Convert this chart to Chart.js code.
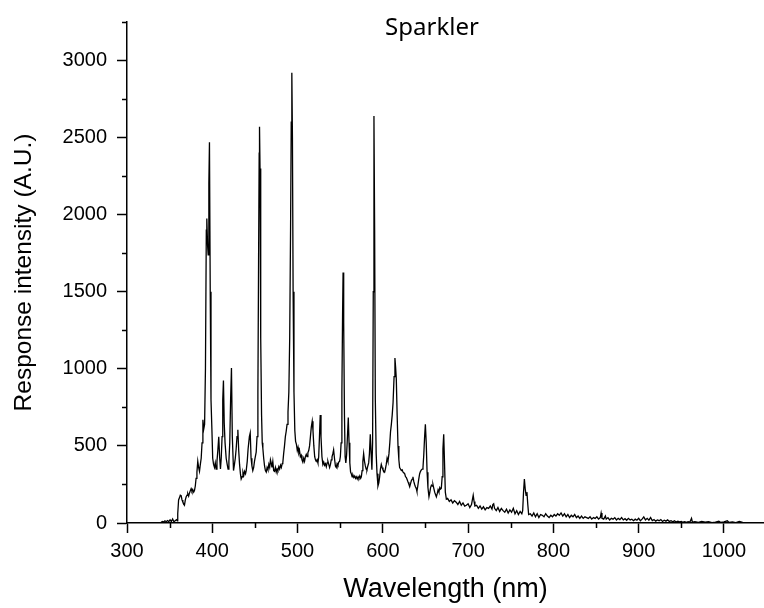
<!DOCTYPE html>
<html>
<head>
<meta charset="utf-8">
<title>Sparkler</title>
<script src="https://cdn.jsdelivr.net/npm/chart.js@4.4.1/dist/chart.umd.min.js"></script>
<style>
  html, body { margin: 0; padding: 0; background: #fff; }
  #wrap { width: 764px; height: 608px; }
</style>
</head>
<body>
<div id="wrap"><canvas id="spectrum" width="764" height="608"></canvas></div>
<script>
const plotTitle = "Sparkler";
const xTitle = "Wavelength (nm)";
const yTitle = "Response intensity (A.U.)";
const xTickValues = [300, 400, 500, 600, 700, 800, 900, 1000];
const yTickValues = [0, 500, 1000, 1500, 2000, 2500, 3000];

// spectrum, split by region (wavelength in nm, intensity in A.U.)
const nmA = [340, 341.5, 343, 344.5, 346, 347.5, 349, 350.5, 352, 353.5,
  355, 356.5, 358, 359, 359.5, 360.5, 361.5, 362.5, 363.5, 364.5,
  365.5, 366.5, 367.4, 368.4, 369.4, 370.4, 371.3, 372.3, 373.3, 374.3,
  375.2, 376.2, 377.2, 378.2, 379.1, 380.1, 381, 382, 383, 384,
  385, 386, 387, 388, 389, 390, 391, 392, 393, 393.6,
  394.5, 395.2, 396, 396.7, 397.6, 398.5, 399.5];
const valA = [4, 10, 6, 14, 8, 16, 9, 20, 10, 26,
  8, 15, 22, 14, 60, 150, 163, 180, 177, 150,
  135, 125, 116, 150, 170, 180, 190, 175, 195, 210,
  223, 205, 215, 200, 210, 240, 290, 330, 400, 360,
  335, 380, 420, 520, 670, 610, 640, 1000, 1900, 1975,
  1800, 1740, 2200, 2470, 1500, 800, 620];

const nmB = [400.5, 401.5, 402.6, 403.5, 404.5, 405.5, 406.5, 407.6, 408.6, 409.6,
  410.5, 411.5, 412.3, 413.1, 414, 415, 416.3, 417.5, 418.5, 419.5,
  420.5, 421.5, 422.5, 423.5, 424.9, 426, 427, 428, 429, 430,
  431, 432, 433, 433.9, 435, 436, 437, 438, 439, 439.8,
  441, 442, 443.5, 444.5, 445.5, 446.5, 447.5, 448.5, 449.5, 450.5,
  451.5, 452.5, 453.5, 454.3, 455, 455.4, 456, 456.8, 457.8, 458.6,
  459.3];
const valB = [420, 380, 360, 390, 350, 400, 470, 560, 430, 350,
  420, 560, 800, 925, 650, 520, 420, 380, 350, 400,
  520, 800, 1005, 560, 340, 380, 420, 480, 560, 605,
  470, 380, 320, 285, 300, 330, 310, 335, 320, 340,
  400, 480, 560, 584, 420, 370, 340, 360, 400, 430,
  460, 560, 850, 1700, 2400, 2570, 2300, 1200, 700, 520,
  485];

const nmC = [460.3, 461.3, 462.3, 463.3, 464.3, 465.3, 466.3, 467.3, 468.2, 469.1,
  470, 471, 472, 473, 474, 475, 476, 477, 478, 479,
  480, 481, 482, 482.7, 483.7, 484.7, 485.7, 486.7, 487.7, 488.8,
  489.8, 490.8, 491.8, 492.6, 493.3, 494, 494.8, 495.8, 496.8, 497.7,
  498.7, 499.7, 500.6, 501.5, 502.3, 503.3, 504.3, 505.2, 506.2, 507.2,
  508.2, 509.2, 510.2, 511.2, 512.1, 513.1, 514.1, 515.1, 516.1, 517.2,
  518.1, 519.1, 520.1];
const valC = [420, 370, 340, 330, 360, 345, 380, 360, 410, 390,
  360, 400, 340, 335, 360, 330, 350, 340, 365, 350,
  375, 360, 385, 390, 450, 500, 560, 595, 640, 720,
  850, 1200, 1900, 2600, 2920, 2500, 1500, 850, 600, 530,
  510, 470, 490, 455, 470, 430, 440, 410, 395, 420,
  400, 430, 445, 430, 455, 470, 500, 560, 620, 660,
  600, 500, 430];

const nmD = [521, 521.9, 522.9, 523.9, 524.8, 525.7, 526.6, 527.5, 528.6, 529.7,
  530.7, 531.7, 532.7, 533.7, 534.7, 535.6, 536.6, 537.6, 538.6, 539.5,
  540.4, 541.4, 542.3, 543.3, 544.4, 545.4, 546.4, 547.4, 548.3, 549.3,
  550.2, 551.1, 552, 552.8, 553.4, 554.1, 555, 555.8, 556.6, 557.5,
  558.5, 559.5, 560.4, 561.3, 562.2, 563, 564, 565, 566, 567,
  568, 568.9, 570, 571, 572, 573, 574, 574.8, 575.7, 576.6,
  577.5, 578.5, 579.5, 580.5, 581.4, 582.4, 583.4, 584.3, 585.3, 586.2,
  587.2, 588, 588.8, 589.6, 590.4, 591.2, 592.2, 593.2, 594.3, 595.3,
  596.3, 597.2, 598.2, 599.2, 600.2, 601.2, 602.1];
const valD = [410, 400, 410, 390, 430, 560, 700, 560, 430, 380,
  395, 375, 385, 365, 390, 400, 380, 360, 380, 410,
  430, 450, 475, 420, 370, 360, 385, 375, 395, 400,
  430, 520, 850, 1350, 1625, 1300, 700, 430, 390, 440,
  560, 685, 520, 390, 330, 320, 300, 310, 295, 305,
  290, 300, 285, 300, 290, 305, 290, 300, 340, 400,
  450, 400, 370, 350, 345, 370, 390, 450, 575, 460,
  345, 520, 1500, 2640, 1900, 800, 450, 320, 240, 260,
  300, 350, 380, 360, 345, 335, 330];

const nmE = [603, 604, 605, 606, 607.2, 608.2, 609, 610, 611, 612,
  613.2, 614.2, 615, 615.8, 616.8, 617.8, 618.8, 619.7, 620.7, 621.7,
  622.7, 623.7, 624.7, 625.6, 626.6, 627.6, 628.6, 629.6, 630.6, 631.5,
  632.5, 633.5, 634.5, 635.3, 636.3, 637.3, 638.2, 639.2, 640, 641,
  642, 643.2, 644.2, 645.2, 646.2, 647.1, 648, 649, 649.9, 650.9,
  651.9, 652.9, 654.1, 655, 656, 657, 658, 658.8, 659.8, 660.8,
  661.8, 662.8, 663.8, 664.8, 665.8, 666.8, 667.8, 668.6, 669.6, 670.5,
  671.4, 672.3, 673.3, 674.5];
const valE = [350, 380, 420, 400, 450, 520, 590, 640, 700, 780,
  950, 1070, 1010, 935, 700, 500, 410, 360, 350, 340,
  345, 330, 325, 320, 300, 295, 280, 265, 250, 235,
  255, 275, 285, 300, 270, 250, 235, 225, 205, 240,
  280, 320, 335, 345, 350, 360, 440, 560, 640, 520,
  330, 230, 170, 195, 230, 245, 240, 250, 225, 200,
  185, 170, 190, 215, 200, 230, 220, 225, 300, 480,
  575, 400, 200, 155];

const nmF = [676, 678, 680, 682, 684, 686, 688, 690, 692, 694,
  696, 698, 700, 702, 704, 705, 706, 707, 708, 710,
  712, 714, 716, 718, 720, 722, 724, 726, 728, 729,
  730, 731, 733, 735, 737, 739, 741, 743, 745, 747,
  749, 751, 753, 755, 757, 759, 761, 763, 764, 765,
  766, 767, 768, 769, 770, 771, 773, 775, 777, 779,
  781, 783, 785, 787, 789, 791, 793, 795, 797, 799,
  801, 803, 805, 807, 809, 811, 813, 815, 817, 819,
  821, 823, 825, 827, 829, 831, 833, 835, 837, 839,
  841, 843, 845, 847, 849, 851, 853, 855, 856, 857,
  859];
const valF = [160, 140, 150, 130, 145, 135, 120, 140, 115, 130,
  110, 115, 125, 100, 120, 150, 180, 140, 110, 115,
  95, 110, 90, 105, 85, 100, 95, 110, 90, 120,
  125, 95, 80, 100, 75, 95, 80, 70, 90, 65,
  85, 70, 95, 60, 80, 55, 75, 60, 80, 200,
  285, 220, 180, 200, 120, 55, 60, 45, 65, 40,
  60, 35, 55, 50, 40, 60, 45, 35, 50, 40,
  55, 45, 60, 50, 65, 45, 60, 40, 55, 35,
  50, 40, 55, 35, 45, 30, 45, 30, 40, 35,
  30, 40, 25, 35, 30, 40, 25, 35, 65, 30,
  25];

const nmG = [861, 862, 864, 866, 868, 870, 872, 874, 876, 878,
  880, 882, 884, 886, 888, 890, 892, 894, 896, 898,
  900, 902, 904, 906, 908, 910, 912, 914, 916, 918,
  920, 922, 924, 926, 928, 930, 932, 934, 936, 938,
  940, 942, 944, 946, 948, 950, 952, 954, 956, 958,
  960, 962, 963, 966, 970, 974, 978, 982, 986, 990,
  994, 996, 1000, 1004, 1006, 1010, 1014, 1018, 1022];
const valG = [45, 25, 35, 20, 30, 25, 35, 20, 30, 22,
  35, 20, 28, 18, 30, 20, 25, 15, 25, 18,
  30, 15, 25, 40, 20, 30, 18, 35, 15, 22,
  12, 20, 15, 22, 10, 18, 12, 20, 10, 15,
  8, 14, 6, 12, 8, 10, 5, 9, 4, 8,
  5, 30, 5, 8, 4, 10, 5, 8, 3, 6,
  12, 4, 8, 14, 4, 7, 3, 10, 4];

const wavelengths = [].concat(nmA, nmB, nmC, nmD, nmE, nmF, nmG);
const intensities = [].concat(valA, valB, valC, valD, valE, valF, valG);
const points = wavelengths.map((x, i) => ({ x: x, y: intensities[i] }));

Chart.defaults.font.family = "'Liberation Sans', Arial, sans-serif";
Chart.defaults.color = "#000";

// short ticks between the labelled ones, placed through the chart's own scales
const minorTicks = {
  id: "minorTicks",
  afterDraw(chart) {
    const { ctx, chartArea, scales } = chart;
    ctx.save();
    ctx.strokeStyle = "#000";
    ctx.lineWidth = 1.5;
    ctx.beginPath();
    for (let v = 350; v <= scales.x.max; v += 100) {
      const px = Math.round(scales.x.getPixelForValue(v)) + 0.5;
      ctx.moveTo(px, chartArea.bottom);
      ctx.lineTo(px, chartArea.bottom + 5);
    }
    for (let v = 250; v <= scales.y.max; v += 500) {
      const py = Math.round(scales.y.getPixelForValue(v)) + 0.5;
      ctx.moveTo(chartArea.left, py);
      ctx.lineTo(chartArea.left - 5, py);
    }
    ctx.stroke();
    ctx.restore();
  }
};

const titleInside = {
  id: "titleInside",
  afterDraw(chart) {
    const ctx = chart.ctx;
    ctx.save();
    ctx.font = "24px 'Noto Sans', 'Open Sans', sans-serif";
    ctx.fillStyle = "#000";
    ctx.textAlign = "center";
    ctx.textBaseline = "alphabetic";
    ctx.fillText(plotTitle, 432, 35);
    ctx.restore();
  }
};

new Chart(document.getElementById("spectrum"), {
  type: "line",
  data: {
    datasets: [{
      label: plotTitle,
      data: points,
      borderColor: "#000",
      borderWidth: 1.3,
      pointRadius: 0,
      tension: 0,
      fill: false
    }]
  },
  options: {
    responsive: false,
    animation: false,
    devicePixelRatio: 1,
    layout: { padding: { top: 9, right: 0, bottom: 0, left: 0 } },
    plugins: {
      legend: { display: false },
      tooltip: { enabled: false }
    },
    scales: {
      x: {
        type: "linear",
        min: 300,
        max: 1047,
        afterBuildTicks: (s) => { s.ticks = xTickValues.map(v => ({ value: v })); },
        afterFit: (s) => { s.height = 85; },
        border: { display: true, color: "#000", width: 1.5 },
        grid: { drawOnChartArea: false, drawTicks: true, tickLength: 10, tickWidth: 1.5, tickColor: "#000" },
        ticks: { padding: 6, maxRotation: 0, autoSkip: false, font: { size: 20 }, callback: (v) => String(v) },
        title: { display: true, text: xTitle, font: { size: 27 }, padding: { top: 0, bottom: 2 } }
      },
      y: {
        min: 0,
        max: 3250,
        afterBuildTicks: (s) => { s.ticks = yTickValues.map(v => ({ value: v })); },
        afterFit: (s) => { s.width = 127; },
        border: { display: true, color: "#000", width: 1.5 },
        grid: { drawOnChartArea: false, drawTicks: true, tickLength: 10, tickWidth: 1.5, tickColor: "#000" },
        ticks: { padding: 10, autoSkip: false, font: { size: 20 }, callback: (v) => String(v) },
        title: { display: true, text: yTitle, font: { size: 24.5 }, padding: { top: 10, bottom: 0 } }
      }
    }
  },
  plugins: [minorTicks, titleInside]
});
</script>
</body>
</html>
